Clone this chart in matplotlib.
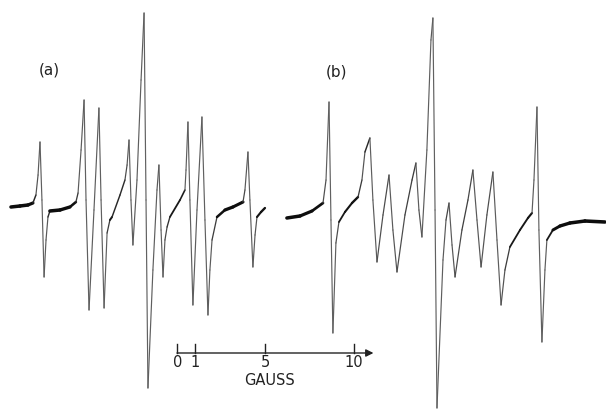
import numpy as np
import matplotlib
matplotlib.use("Agg")
import matplotlib.pyplot as plt
from matplotlib.collections import LineCollection

# Spectrum (a): magnetic field (gauss, relative to scale-bar origin) and signal (a.u.)
field_a = [-9.38, -8.87, -8.42, -8.14, -7.97, -7.85, -7.74, -7.63, -7.51, -7.40,
           -7.29, -7.18, -6.61, -6.05, -5.71, -5.59, -5.42, -5.25, -5.14, -4.97,
           -4.69, -4.41, -4.29, -4.12, -3.95, -3.79, -3.67, -3.22, -2.94, -2.82,
           -2.71, -2.60, -2.49, -2.26, -2.03, -1.86, -1.75, -1.64, -1.36, -1.13,
           -1.02, -0.90, -0.79, -0.68, -0.56, -0.40, 0.17, 0.45, 0.51, 0.62,
           0.73, 0.90, 1.13, 1.41, 1.58, 1.75, 1.86, 1.98, 2.26, 2.71,
           3.16, 3.73, 3.84, 4.01, 4.12, 4.29, 4.41, 4.52, 4.75, 4.97]
signal_a = [3, 4, 5, 7, 15, 35, 68, 10, -67, -30,
            -7, -1, 0, 3, 8, 17, 60, 110, 10, -100,
            0, 102, 10, -98, -23, -10, -7, 15, 30, 45,
            70, 10, -35, 30, 130, 197, 10, -178, -60, 20,
            45, -20, -67, -30, -17, -7, 10, 20, 40, 88,
            10, -95, 0, 93, -10, -105, -60, -30, -7, 0,
            3, 8, 20, 58, 10, -57, -25, -7, -2, 2]

# Spectrum (b)
field_b = [6.21, 6.95, 7.63, 8.25, 8.42, 8.59, 8.70, 8.81, 8.98, 9.15,
           9.49, 9.89, 10.23, 10.45, 10.62, 10.90, 11.07, 11.30, 11.64, 11.98,
           12.20, 12.43, 12.88, 13.28, 13.50, 13.67, 13.84, 14.12, 14.35, 14.46,
           14.58, 14.69, 15.03, 15.20, 15.37, 15.54, 15.71, 16.10, 16.44, 16.72,
           16.95, 17.18, 17.51, 17.85, 18.08, 18.31, 18.53, 18.81, 19.38, 19.83,
           20.06, 20.17, 20.34, 20.45, 20.62, 20.79, 20.90, 21.24, 21.64, 22.20,
           23.05, 24.18]
signal_b = [-8, -6, -1, 7, 30, 108, -10, -123, -33, -12,
            -2, 7, 13, 30, 58, 72, 10, -52, -5, 35,
            -20, -62, -5, 30, 47, 0, -27, 60, 170, 192,
            0, -198, -50, -10, 7, -35, -67, -20, 10, 40,
            -10, -57, -5, 38, -30, -95, -60, -37, -20, -8,
            -3, 30, 103, -20, -132, -60, -30, -20, -16, -13,
            -11, -12]

scale_ticks = [0, 1, 5, 10]
scale_labels = ["0", "1", "5", "10"]
scale_end = 11.1
panel_labels = ["(a)", "(b)"]

fig = plt.figure(figsize=(6.06, 4.11), dpi=100)
ax = fig.add_axes([0, 0, 1, 1])
ax.set_xlim(-10.0, 24.24)
ax.set_ylim(-201, 210)
ax.axis("off")

def trace(x, y):
    x = np.asarray(x, float)
    y = np.asarray(y, float)
    pts = np.column_stack([x, y])
    segs = np.stack([pts[:-1], pts[1:]], axis=1)
    disp = ax.transData.transform(pts)
    d = np.diff(disp, axis=0)
    slope = np.abs(d[:, 1]) / np.maximum(np.abs(d[:, 0]), 1e-6)
    w = 0.85 + 1.7 / (1 + (slope / 1.0) ** 2)
    g = 0.05 + 0.33 * (1 - 1 / (1 + (slope / 4.0) ** 2))
    cols = [(gg, gg, gg) for gg in g]
    lc = LineCollection(segs, linewidths=w, colors=cols, capstyle="round",
                        joinstyle="round")
    ax.add_collection(lc)

trace(field_a, signal_a)
trace(field_b, signal_b)

# scale bar
ybar = -143
tcol = "#222222"
ax.annotate("", xy=(scale_end, ybar), xytext=(scale_ticks[0], ybar),
            arrowprops=dict(arrowstyle="-|>", lw=1.0, color=tcol,
                            mutation_scale=11, shrinkA=0, shrinkB=0))
for t, lab in zip(scale_ticks, scale_labels):
    ax.plot([t, t], [ybar, ybar + 9], color=tcol, lw=1.0)
    ax.text(t + (0.05 if t == 0 else 0), ybar - 9, lab, ha="center", va="center",
            fontsize=10.5, color=tcol, family="DejaVu Sans")
ax.text(5.2, ybar - 27, "GAUSS", ha="center", va="center", fontsize=10.5,
        color=tcol, family="DejaVu Sans")

ax.text(-7.2, 140, panel_labels[0], ha="center", va="center", fontsize=11,
        color=tcol)
ax.text(8.99, 138, panel_labels[1], ha="center", va="center", fontsize=11,
        color=tcol)

fig.savefig("out.png", dpi=100, facecolor="white")
